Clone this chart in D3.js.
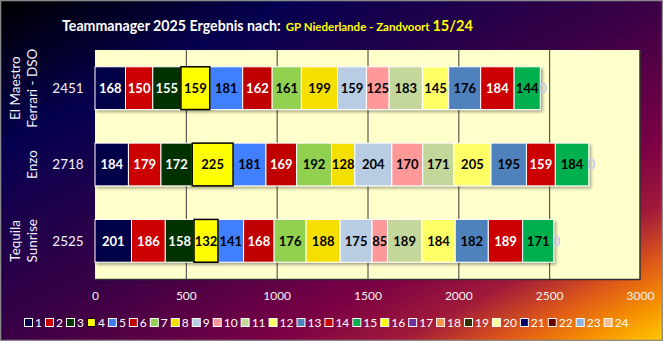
<!DOCTYPE html>
<html><head><meta charset="utf-8">
<script src="https://cdn.jsdelivr.net/npm/d3@7"></script>
<style>html,body{margin:0;padding:0;background:#fff;}svg{display:block;}</style>
</head><body>
<script>
// ---- data ----
const categories = [["El Maestro","Ferrari - DSO"],["Enzo"],["Tequila","Sunrise"]];
const totals = [2451, 2718, 2525];
const seriesNames = ["1","2","3","4","5","6","7","8","9","10","11","12","13","14","15","16","17","18","19","20","21","22","23","24"];
const seriesColors = ["#000048","#CC0000","#003300","#FFFF00","#3F7FFF","#C00000","#92D050","#F5DF00","#B8CCE4","#FF9999","#C4D79B","#FFFF66","#4F81BD","#CC0000","#00B050","#FFFF00","#7030A0","#F79646","#333300","#FFFF99","#000066","#660000","#8DB4E2","#FABF8F"];
const whiteLabelSeries = ["1","2","3","6","14","17","19","21","22"];
const values_row1 = [168,150,155,159,181,162,161,199,159,125,183,145,176,184,144,0];
const values_row2 = [184,179,172,225,181,169,192,128,204,170,171,205,195,159,184,0];
const values_row3 = [201,186,158,132,141,168,176,188,175,85,189,184,182,189,171,0];
const xTicks = [0,500,1000,1500,2000,2500,3000];
const xDomain = [0,3000];

const rows = [values_row1, values_row2, values_row3];
const W = 663, H = 341;
const svg = d3.select("body").append("svg").attr("width",W).attr("height",H)
  .style("font-family","Lato, 'Open Sans', sans-serif");
const defs = svg.append("defs");
const lg = defs.append("linearGradient").attr("id","bg").attr("x1",0).attr("y1",0).attr("x2",1).attr("y2",1);
[[0,"#000000"],[0.22,"#050050"],[0.5,"#3a0045"],[0.7,"#7a0045"],[0.8,"#a01a3a"],[0.88,"#e05a18"],[0.94,"#f59000"],[1,"#ffc800"]]
  .forEach(([o,c])=>lg.append("stop").attr("offset",o).attr("stop-color",c));
const sh = defs.append("filter").attr("id","shadow").attr("x","-10%").attr("y","-10%").attr("width","130%").attr("height","140%");
sh.append("feDropShadow").attr("dx",2).attr("dy",2).attr("stdDeviation",1.5).attr("flood-color","#000").attr("flood-opacity",0.35);

svg.append("rect").attr("x",0.5).attr("y",0.5).attr("width",W-1).attr("height",H-1)
  .attr("fill","url(#bg)").attr("stroke","#8a8a8a").attr("stroke-width",1.5);

// title
const title = svg.append("text").attr("x",62).attr("y",31).attr("font-weight","bold");
title.append("tspan").attr("fill","#ffffff").attr("font-size",14.2).text("Teammanager 2025 Ergebnis nach:");
title.append("tspan").attr("fill","#ffff00").attr("font-size",11.5).attr("dx",5).text("GP Niederlande - Zandvoort ");
title.append("tspan").attr("fill","#ffff00").attr("font-size",14.5).text("15/24");

// scales
const x = d3.scaleLinear().domain(xDomain).range([95,640]);
const y = d3.scaleBand().domain(d3.range(rows.length)).range([50,279]).paddingInner(0.44).paddingOuter(0.22);

// plot area
svg.append("rect").attr("x",x(0)).attr("y",50).attr("width",x(3000)-x(0)).attr("height",229).attr("fill","#FFFFCC");
svg.append("g").selectAll("line").data(xTicks.filter(t=>t>0&&t<3000)).join("line")
  .attr("x1",d=>x(d)+0.5).attr("x2",d=>x(d)+0.5).attr("y1",50).attr("y2",279)
  .attr("stroke","#3a3a3a").attr("stroke-width",1);
svg.append("line").attr("x1",x(3000)).attr("x2",x(3000)).attr("y1",50).attr("y2",280).attr("stroke","#333").attr("stroke-width",1.5);
svg.append("line").attr("x1",x(0)).attr("x2",x(3000)+0.75).attr("y1",279.5).attr("y2",279.5).attr("stroke","#333").attr("stroke-width",1.5);

// stacked data
const stacked = rows.map((vals,ri)=>{
  let acc=0;
  return vals.map((v,si)=>{const s={row:ri,series:si,v,x0:acc,x1:acc+v};acc+=v;return s;});
});

const barsG = svg.append("g");
stacked.forEach((segs,ri)=>{
  const g = barsG.append("g").attr("filter","url(#shadow)");
  g.selectAll("rect").data(segs.filter(s=>s.v>0)).join("rect")
    .attr("x",d=>x(d.x0)).attr("width",d=>x(d.x1)-x(d.x0))
    .attr("y",y(ri)).attr("height",y.bandwidth())
    .attr("fill",d=>seriesColors[d.series])
    .attr("stroke",d=>d.series===3?"#000":"#fff")
    .attr("stroke-width",d=>d.series===3?1.5:1);
});
barsG.selectAll("rect").filter(d=>d.series===3).raise();

// labels
stacked.forEach((segs,ri)=>{
  svg.append("g").selectAll("text").data(segs).join("text")
    .attr("x",d=>d.v>0?(x(d.x0)+x(d.x1))/2:x(d.x1)-1)
    .attr("y",y(ri)+y.bandwidth()/2)
    .attr("dy","0.36em").attr("text-anchor",d=>d.v>0?"middle":"start")
    .attr("font-size",13).attr("font-weight","bold")
    .attr("fill",d=>d.v===0?"#c8c8f0":(whiteLabelSeries.includes(seriesNames[d.series])?"#ffffff":"#000000"))
    .text(d=>d.v);
});

// totals
svg.append("g").selectAll("text").data(totals).join("text")
  .attr("x",68).attr("y",(d,i)=>y(i)+y.bandwidth()/2).attr("dy","0.36em")
  .attr("text-anchor","middle").attr("font-size",13.5).attr("fill","#f2f2ff").text(d=>d);

// category labels (rotated)
categories.forEach((lines,i)=>{
  const cy = y(i)+y.bandwidth()/2;
  const n = lines.length;
  lines.forEach((ln,j)=>{
    const cx = 32 - (n-1-j)*17;
    svg.append("text").attr("transform",`translate(${cx},${cy}) rotate(-90)`)
      .attr("text-anchor","middle").attr("dy","0.36em").attr("font-size",13.5)
      .attr("fill","#f2f2ff").text(ln);
  });
});

// x axis
const xAxis = svg.append("g").attr("transform","translate(0,291)")
  .call(d3.axisBottom(x).tickValues(xTicks).tickFormat(d3.format("d")).tickSize(0).tickPadding(0));
xAxis.select(".domain").remove();
xAxis.selectAll("text").attr("fill","#f2f2f2").attr("font-size",12).attr("font-family","Lato, sans-serif");

// legend
const leg = svg.append("g");
let lx = 24;
seriesNames.forEach((nm,i)=>{
  leg.append("rect").attr("x",lx+0.5).attr("y",318.5).attr("width",8).attr("height",8)
    .attr("fill",seriesColors[i]).attr("stroke",i===3?"#000":"#fff").attr("stroke-width",1);
  const t = leg.append("text").attr("x",lx+11).attr("y",322.5).attr("dy","0.36em")
    .attr("font-size",12).attr("fill","#ffffff").text(nm);
  lx += 11 + t.node().getComputedTextLength() + 3;
});
</script>
</body></html>
